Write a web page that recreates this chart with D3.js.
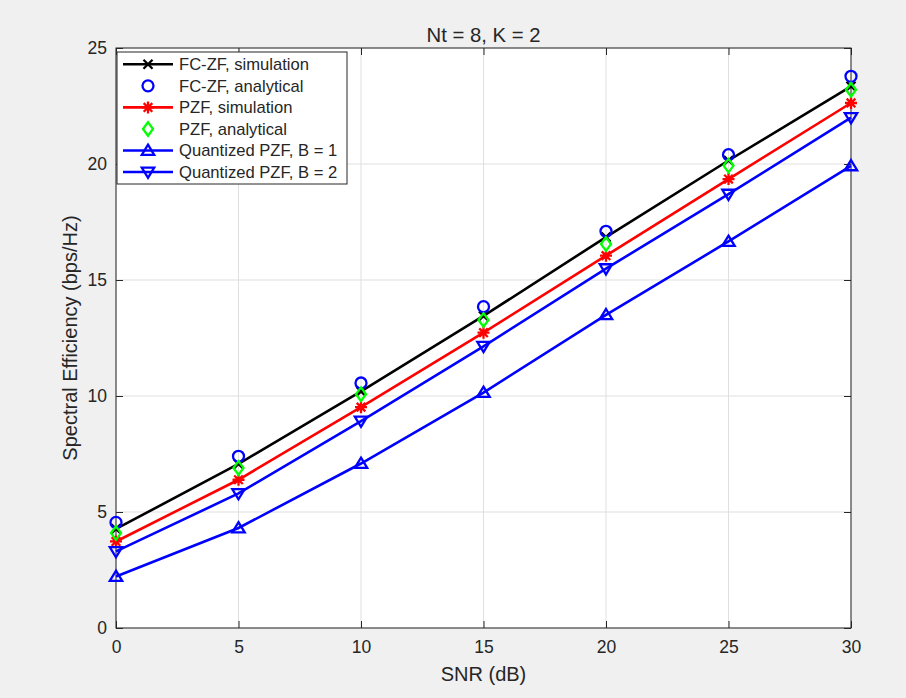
<!DOCTYPE html>
<html>
<head>
<meta charset="utf-8">
<script src="https://cdn.jsdelivr.net/npm/d3@7"></script>
<style>
  html, body { margin: 0; padding: 0; background: #f0f0f0; }
  svg { display: block; }
  text { font-family: "Liberation Sans", Arial, Helvetica, sans-serif; fill: #262626; }
</style>
</head>
<body>
<svg id="chart" width="906" height="698"></svg>
<script>
// ---- data ----
const snr = [0, 5, 10, 15, 20, 25, 30];
const fczfSim = [4.27, 7.07, 10.2, 13.45, 16.85, 20.15, 23.35];
const fczfAna = [4.55, 7.4, 10.56, 13.85, 17.1, 20.4, 23.78];
const pzfSim = [3.73, 6.39, 9.52, 12.73, 16.05, 19.35, 22.63];
const pzfAna = [4.09, 6.9, 10.08, 13.28, 16.55, 19.93, 23.2];
const qpzfB1 = [2.22, 4.31, 7.09, 10.15, 13.5, 16.66, 19.92];
const qpzfB2 = [3.3, 5.8, 8.92, 12.14, 15.49, 18.7, 22.0];
const xTicks = [0, 5, 10, 15, 20, 25, 30];
const yTicks = [0, 5, 10, 15, 20, 25];
const seriesNames = ["FC-ZF, simulation", "FC-ZF, analytical", "PZF, simulation", "PZF, analytical", "Quantized PZF, B = 1", "Quantized PZF, B = 2"];

const series = [
  { name: seriesNames[0], values: fczfSim, color: "#000000", line: true, marker: "x" },
  { name: seriesNames[1], values: fczfAna, color: "#0000ff", line: false, marker: "o" },
  { name: seriesNames[2], values: pzfSim, color: "#ff0000", line: true, marker: "*" },
  { name: seriesNames[3], values: pzfAna, color: "#00ff00", line: false, marker: "d" },
  { name: seriesNames[4], values: qpzfB1, color: "#0000ff", line: true, marker: "^" },
  { name: seriesNames[5], values: qpzfB2, color: "#0000ff", line: true, marker: "v" }
];

const svg = d3.select("#chart");
const L = 116, R = 851, T = 48, B = 628;
const x = d3.scaleLinear().domain([0, 30]).range([L, R]);
const y = d3.scaleLinear().domain([0, 25]).range([B, T]);
const axisColor = "#262626";

svg.append("rect").attr("x", L).attr("y", T).attr("width", R - L).attr("height", B - T).attr("fill", "#ffffff");

const grid = svg.append("g");
xTicks.forEach(t => {
  grid.append("line").attr("x1", x(t)).attr("x2", x(t)).attr("y1", T).attr("y2", B)
    .attr("stroke", "#dfdfdf").attr("stroke-width", 1);
});
yTicks.forEach(t => {
  grid.append("line").attr("x1", L).attr("x2", R).attr("y1", y(t)).attr("y2", y(t))
    .attr("stroke", "#dfdfdf").attr("stroke-width", 1);
});

const fs = 17.5;
const xAxis = svg.append("g").attr("transform", `translate(0,${B})`)
  .call(d3.axisBottom(x).tickValues(xTicks).tickSize(-7).tickPadding(13).tickFormat(d3.format("d")));
const xAxisTop = svg.append("g").attr("transform", `translate(0,${T})`)
  .call(d3.axisTop(x).tickValues(xTicks).tickSize(-7).tickFormat(""));
const yAxis = svg.append("g").attr("transform", `translate(${L},0)`)
  .call(d3.axisLeft(y).tickValues(yTicks).tickSize(-7).tickPadding(9).tickFormat(d3.format("d")));
const yAxisR = svg.append("g").attr("transform", `translate(${R},0)`)
  .call(d3.axisRight(y).tickValues(yTicks).tickSize(-7).tickFormat(""));
[xAxis, xAxisTop, yAxis, yAxisR].forEach(g => {
  g.attr("font-size", fs).attr("font-family", "'Liberation Sans', Arial, Helvetica, sans-serif");
  g.selectAll(".tick line").attr("stroke", axisColor).attr("stroke-width", 1);
  g.selectAll(".tick text").attr("fill", axisColor);
  g.select(".domain").remove();
});
svg.append("rect").attr("x", L).attr("y", T).attr("width", R - L).attr("height", B - T)
  .attr("fill", "none").attr("stroke", axisColor).attr("stroke-width", 1);

function drawMarker(g, type, cx, cy, color) {
  const sw = 2.3;
  if (type === "x") {
    g.append("path").attr("d", `M${cx - 4.5},${cy - 4.5}L${cx + 4.5},${cy + 4.5}M${cx - 4.5},${cy + 4.5}L${cx + 4.5},${cy - 4.5}`)
      .attr("stroke", color).attr("stroke-width", sw).attr("fill", "none");
  } else if (type === "o") {
    g.append("circle").attr("cx", cx).attr("cy", cy).attr("r", 5.5)
      .attr("stroke", color).attr("stroke-width", sw).attr("fill", "none");
  } else if (type === "*") {
    const a = 6, b = 4.3;
    g.append("path").attr("d", `M${cx - a},${cy}L${cx + a},${cy}M${cx},${cy - a}L${cx},${cy + a}M${cx - b},${cy - b}L${cx + b},${cy + b}M${cx - b},${cy + b}L${cx + b},${cy - b}`)
      .attr("stroke", color).attr("stroke-width", sw).attr("fill", "none");
  } else if (type === "d") {
    g.append("path").attr("d", `M${cx},${cy - 6.8}L${cx + 5},${cy}L${cx},${cy + 6.8}L${cx - 5},${cy}Z`)
      .attr("stroke", color).attr("stroke-width", sw).attr("fill", "none");
  } else if (type === "^") {
    g.append("path").attr("d", `M${cx},${cy - 5.8}L${cx + 6.2},${cy + 4.4}L${cx - 6.2},${cy + 4.4}Z`)
      .attr("stroke", color).attr("stroke-width", sw).attr("fill", "none");
  } else if (type === "v") {
    g.append("path").attr("d", `M${cx},${cy + 5.8}L${cx + 6.2},${cy - 4.4}L${cx - 6.2},${cy - 4.4}Z`)
      .attr("stroke", color).attr("stroke-width", sw).attr("fill", "none");
  }
}

const plot = svg.append("g");
const lineGen = d3.line().x(d => x(d[0])).y(d => y(d[1]));
series.forEach(s => {
  const pts = snr.map((v, i) => [v, s.values[i]]);
  const g = plot.append("g");
  if (s.line) {
    g.append("path").attr("d", lineGen(pts)).attr("fill", "none")
      .attr("stroke", s.color).attr("stroke-width", 2.6);
  }
  pts.forEach(p => drawMarker(g, s.marker, x(p[0]), y(p[1]), s.color));
});

const lg = svg.append("g");
const lgX = 117, lgY = 52, lgW = 230, lgH = 132;
lg.append("rect").attr("x", lgX).attr("y", lgY).attr("width", lgW).attr("height", lgH)
  .attr("fill", "#ffffff").attr("stroke", axisColor).attr("stroke-width", 1);
series.forEach((s, i) => {
  const cy = 64.3 + i * 21.55;
  if (s.line) {
    lg.append("line").attr("x1", 123).attr("x2", 173).attr("y1", cy).attr("y2", cy)
      .attr("stroke", s.color).attr("stroke-width", 2.6);
  }
  drawMarker(lg, s.marker, 148, cy, s.color);
  lg.append("text").attr("x", 179).attr("y", cy).attr("dy", "0.35em")
    .attr("font-size", 16.6).text(s.name).attr("fill", "#000");
});

svg.append("text").attr("x", (L + R) / 2).attr("y", 42).attr("text-anchor", "middle")
  .attr("font-size", 20.3).text("Nt = 8, K = 2").attr("fill", "#000");
svg.append("text").attr("x", (L + R) / 2).attr("y", 681).attr("text-anchor", "middle")
  .attr("font-size", 20).text("SNR (dB)");
svg.append("text").attr("transform", `translate(77,${(T + B) / 2}) rotate(-90)`).attr("text-anchor", "middle")
  .attr("font-size", 20).text("Spectral Efficiency (bps/Hz)");
</script>
</body>
</html>
